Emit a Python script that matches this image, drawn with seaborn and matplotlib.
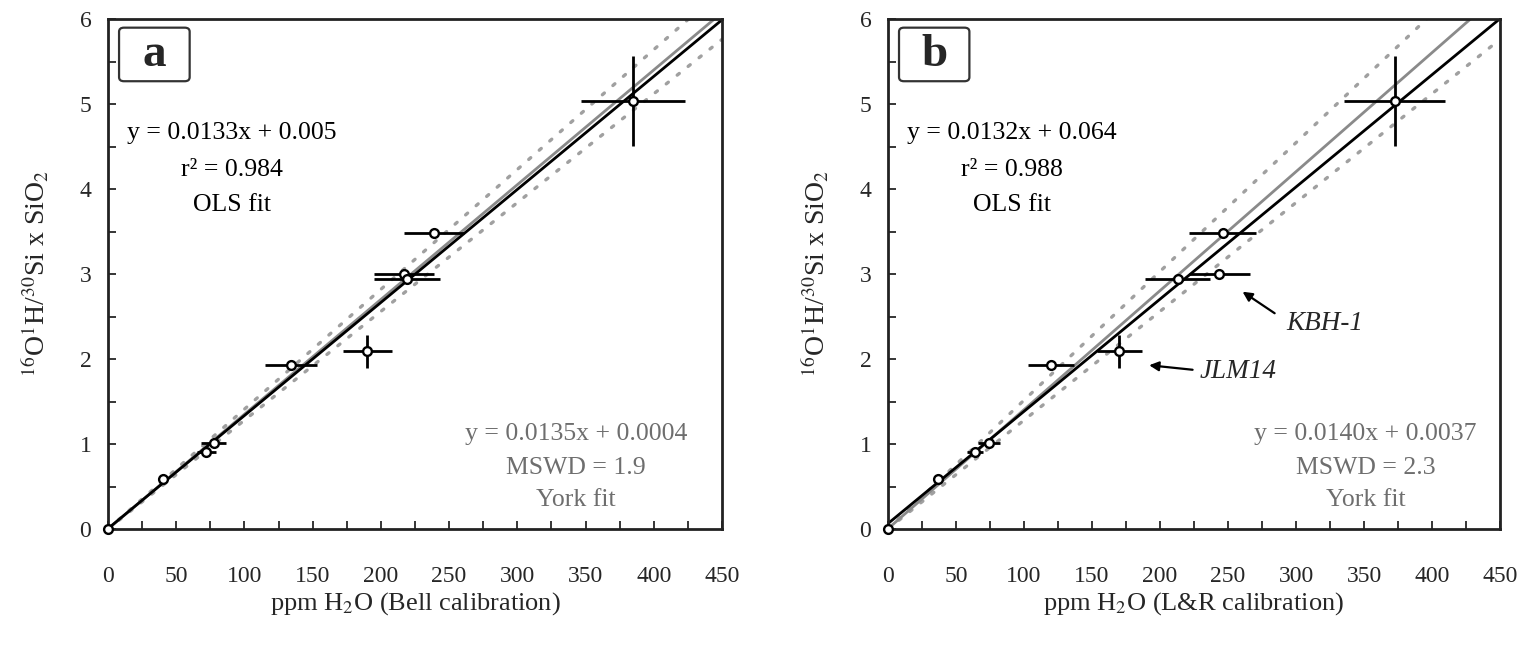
import numpy as np
import pandas as pd
import matplotlib
matplotlib.use("Agg")
import matplotlib.pyplot as plt
import seaborn as sns
from matplotlib.patches import FancyBboxPatch
from matplotlib.ticker import MultipleLocator

# Measured OH/Si ratio (x SiO2) for each standard
ratio = [0, 0.59, 0.91, 1.01, 1.93, 2.09, 3.00, 2.94, 3.48, 5.04]
ratio_err = [0, 0.03, 0.03, 0.03, 0.04, 0.19, 0.04, 0.04, 0.04, 0.53]

# Water contents, Bell calibration
bell_ppm = [0, 40.5, 72, 77.5, 134, 190, 217, 219, 239, 385]
bell_ppm_err = [0, 3, 7, 9, 19, 18, 22, 24, 22, 38]

# Water contents, L&R calibration
lr_ppm = [0, 37, 64, 74.5, 120, 170, 243.5, 213, 246, 372.5]
lr_ppm_err = [0, 3, 6, 8, 17, 16.5, 22.5, 24, 24.5, 37]

# Regression results: (slope, intercept)
ols_a = (0.0133, 0.005)
york_a = (0.0135, 0.0004)
env_a = (0.0141, 0.0128)
ols_b = (0.0132, 0.064)
york_b = (0.0140, 0.0037)
env_b = (0.01515, 0.0128)

ols_text_a = ["y = 0.0133x + 0.005", "r\u00b2 = 0.984", "OLS fit"]
york_text_a = ["y = 0.0135x + 0.0004", "MSWD = 1.9", "York fit"]
ols_text_b = ["y = 0.0132x + 0.064", "r\u00b2 = 0.988", "OLS fit"]
york_text_b = ["y = 0.0140x + 0.0037", "MSWD = 2.3", "York fit"]

sns.set_theme(style="ticks")
plt.rcParams["font.family"] = ["Liberation Serif", "DejaVu Serif"]
plt.rcParams["mathtext.fontset"] = "stix"

FS_TICK = 17
FS_XLABEL = 19
FS_YLABEL = 20
FS_NOTE = 18.5
GRAY = "#8a8a8a"
TEXT_GRAY = "#6e6e6e"

fig = plt.figure(figsize=(15.31, 6.54), dpi=100)
ax_a = fig.add_axes([108 / 1531, 1 - 529 / 654, 614 / 1531, 510 / 654])
ax_b = fig.add_axes([888 / 1531, 1 - 529 / 654, 612 / 1531, 510 / 654])

xgrid = np.linspace(0, 450, 200)


def draw_panel(ax, ppm, ppm_err, ols, york, env, ols_txt, york_txt,
               xlabel, letter, york_x):
    # confidence envelope
    for s in env:
        ax.plot(xgrid, s * xgrid, color="#a0a0a0", lw=2.4,
                linestyle=(0, (0.8, 3.4)), dash_capstyle="round", zorder=1)
    fits = pd.DataFrame({
        "x": np.concatenate([xgrid, xgrid]),
        "y": np.concatenate([york[0] * xgrid + york[1],
                             ols[0] * xgrid + ols[1]]),
        "fit": ["York"] * len(xgrid) + ["OLS"] * len(xgrid),
    })
    sns.lineplot(data=fits, x="x", y="y", hue="fit",
                 palette={"York": GRAY, "OLS": "black"},
                 linewidth=2.0, legend=False, ax=ax, zorder=2)

    ax.errorbar(ppm, ratio, xerr=ppm_err, yerr=ratio_err, fmt="none",
                ecolor="black", elinewidth=2.0, capsize=0, zorder=3)
    pts = pd.DataFrame({"ppm": ppm, "ratio": ratio})
    sns.scatterplot(data=pts, x="ppm", y="ratio", ax=ax, s=40,
                    color="white", edgecolor="black", linewidth=1.7,
                    zorder=4, clip_on=False)

    ax.set_xlim(0, 450)
    ax.set_ylim(0, 6)
    ax.xaxis.set_major_locator(MultipleLocator(50))
    ax.xaxis.set_minor_locator(MultipleLocator(25))
    ax.yaxis.set_major_locator(MultipleLocator(1))
    ax.yaxis.set_minor_locator(MultipleLocator(0.5))
    ax.tick_params(which="both", direction="in", length=6, width=1.3,
                   labelsize=FS_TICK, top=False, right=False)
    ax.tick_params(axis="x", pad=27)
    ax.tick_params(axis="y", pad=12)
    for sp in ax.spines.values():
        sp.set_visible(True)
        sp.set_linewidth(2.0)
        sp.set_color("#222222")

    ax.set_xlabel(xlabel, fontsize=FS_XLABEL, labelpad=2)
    ax.set_ylabel("$^{16}$O$^{1}$H/$^{30}$Si x SiO$_2$",
                  fontsize=FS_YLABEL, labelpad=20)

    for txt, yy in zip(ols_txt, [4.66, 4.22, 3.81]):
        ax.text(91, yy, txt, ha="center", va="center", fontsize=FS_NOTE,
                color="black")
    for txt, yy in zip(york_txt, [1.12, 0.72, 0.34]):
        ax.text(york_x, yy, txt, ha="center", va="center", fontsize=FS_NOTE,
                color=TEXT_GRAY)

    box = FancyBboxPatch((0.018, 0.878), 0.115, 0.105,
                         boxstyle="round,pad=0,rounding_size=0.008",
                         transform=ax.transAxes, facecolor="white",
                         edgecolor="#333333", linewidth=1.6, zorder=5)
    ax.add_patch(box)
    ax.text(0.0755, 0.929, letter, transform=ax.transAxes, ha="center",
            va="center", fontsize=34, fontweight="bold", zorder=6)


draw_panel(ax_a, bell_ppm, bell_ppm_err, ols_a, york_a, env_a,
           ols_text_a, york_text_a, "ppm H$_2$O (Bell calibration)", "a",
           343)
draw_panel(ax_b, lr_ppm, lr_ppm_err, ols_b, york_b, env_b,
           ols_text_b, york_text_b, "ppm H$_2$O (L&R calibration)", "b",
           351)

# sample callouts
arrow = dict(arrowstyle="-|>", color="black", lw=1.6, mutation_scale=14)
ax_b.annotate("", xy=(259, 2.81), xytext=(286, 2.52), arrowprops=arrow)
ax_b.text(293, 2.42, "KBH-1", fontsize=19.5, style="italic",
          ha="left", va="center")
ax_b.annotate("", xy=(190, 1.93), xytext=(226, 1.87), arrowprops=arrow)
ax_b.text(229, 1.85, "JLM14", fontsize=19.5, style="italic",
          ha="left", va="center")

fig.savefig("out.png", dpi=100, facecolor="white")
